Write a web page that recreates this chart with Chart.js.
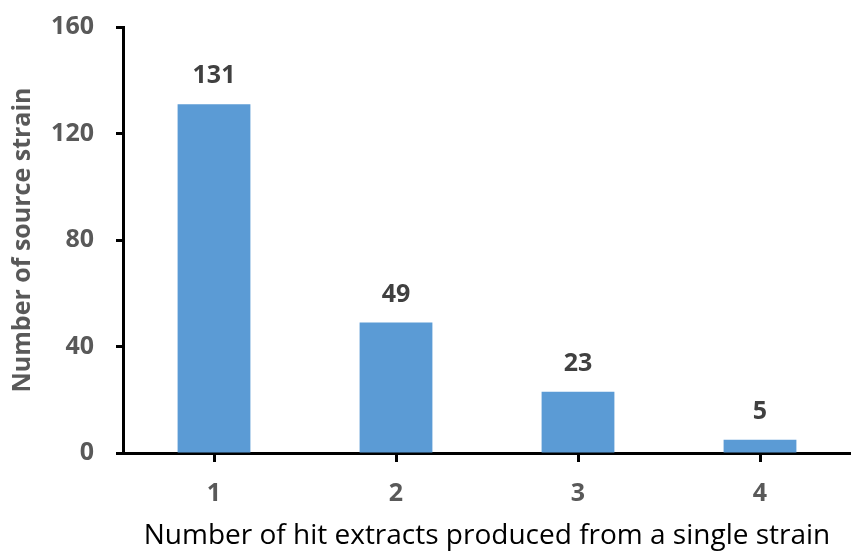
<!DOCTYPE html>
<html>
<head>
<meta charset="utf-8">
<script src="https://cdn.jsdelivr.net/npm/chart.js@4"></script>
<style>
  html, body { margin: 0; padding: 0; background: #fff; }
  #wrap { width: 851px; height: 553px; }
</style>
</head>
<body>
<div id="wrap"><canvas id="chartHits" width="851" height="553"></canvas></div>
<script>
const hitCounts = ["1", "2", "3", "4"];
const strainCounts = [131, 49, 23, 5];
const yTicks = [0, 40, 80, 120, 160];

const FONT = "'Open Sans', 'Noto Sans', sans-serif";
const GREY = "#595959";

// value labels above each bar
const barValues = {
  id: "barValues",
  afterDatasetsDraw(chart) {
    const { ctx } = chart;
    const meta = chart.getDatasetMeta(0);
    ctx.save();
    ctx.font = `bold 25px ${FONT}`;
    ctx.fillStyle = "#404040";
    ctx.textAlign = "center";
    ctx.textBaseline = "middle";
    meta.data.forEach((bar, i) => {
      ctx.fillText(String(strainCounts[i]), bar.x, bar.y - 28);
    });
    ctx.restore();
  },
};

new Chart(document.getElementById("chartHits"), {
  type: "bar",
  data: {
    labels: hitCounts,
    datasets: [{
      data: strainCounts,
      backgroundColor: "#5B9BD5",
      borderWidth: 0,
      categoryPercentage: 1,
      barPercentage: 0.4,
    }],
  },
  options: {
    responsive: false,
    animation: false,
    layout: { padding: { top: 27, right: 0, bottom: 0, left: 0 } },
    plugins: {
      legend: { display: false },
      tooltip: { enabled: false },
    },
    scales: {
      x: {
        offset: true,
        afterFit: (scale) => { scale.height = 100; },
        border: { color: "#000", width: 3 },
        grid: {
          offset: false,
          drawOnChartArea: false,
          drawTicks: true,
          tickLength: 9,
          tickWidth: 3,
          tickColor: "#000",
        },
        ticks: {
          color: GREY,
          padding: 17,
          font: { family: FONT, size: 25, weight: "bold" },
        },
        title: {
          display: true,
          text: "Number of hit extracts produced from a single strain",
          color: "#000",
          font: { family: FONT, size: 28 },
          padding: { top: 0, bottom: 0 },
        },
      },
      y: {
        min: 0,
        max: 160,
        afterFit: (scale) => {
          scale.width = 123;
          // keep the plot top fixed by the layout padding alone
          scale.paddingTop = 0;
          scale.paddingBottom = 0;
        },
        afterBuildTicks: (scale) => { scale.ticks = yTicks.map((v) => ({ value: v })); },
        border: { color: "#000", width: 3 },
        grid: {
          drawOnChartArea: false,
          drawTicks: true,
          tickLength: 7,
          tickWidth: 3,
          tickColor: "#000",
        },
        ticks: {
          color: GREY,
          padding: 22,
          font: { family: FONT, size: 25, weight: "bold" },
        },
        title: {
          display: true,
          text: "Number of source strain",
          color: GREY,
          font: { family: FONT, size: 25, weight: "bold" },
          padding: { top: 8, bottom: 0 },
        },
      },
    },
  },
  plugins: [barValues],
});
</script>
</body>
</html>
